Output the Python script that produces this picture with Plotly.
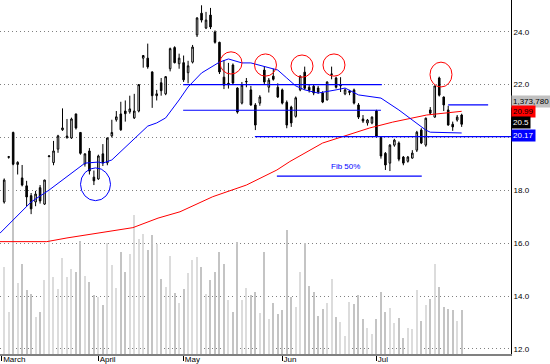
import plotly.graph_objects as go

# ---- data ----
opens = [17.56, 19.25, 20.19, 18.98, 18.47, 18.17, 17.80, 17.56, 18.10, 17.48,
         19.28, 19.05, 19.56, 20.29, 20.00, 19.98, 20.89, 20.19, 19.00, 19.49,
         18.50, 18.43, 19.38, 19.04, 20.06, 20.67, 20.89, 21.00, 20.97, 20.74,
         21.00, 23.00, 23.00, 22.48, 21.58, 22.07, 21.65, 22.60, 23.40, 22.79,
         22.83, 22.45, 22.85, 23.88, 24.70, 24.14, 24.63, 23.99, 23.60, 22.28,
         22.00, 22.74, 21.87, 21.30, 22.10, 21.80, 21.23, 21.30, 22.55, 21.90,
         22.32, 21.90, 21.80, 21.33, 21.15, 20.80, 21.80, 22.47, 21.90, 21.94,
         21.87, 21.68, 21.42, 22.38, 22.25, 21.95, 21.65, 21.70, 21.80, 21.23,
         20.70, 20.55, 20.55, 21.00, 20.00, 19.40, 19.03, 19.71, 19.79, 19.26,
         19.10, 19.22, 19.52, 20.28, 19.71, 21.04, 20.77, 22.25, 21.53, 21.04,
         20.50, 20.66, 20.85]
highs = [18.45, 19.30, 20.22, 19.10, 18.96, 18.36, 17.90, 17.98, 18.20, 18.40,
         19.32, 19.87, 20.10, 21.10, 20.70, 20.75, 20.90, 20.20, 19.40, 19.60,
         18.75, 19.35, 19.75, 20.00, 20.67, 21.00, 21.35, 21.40, 21.58, 21.65,
         22.02, 23.12, 23.55, 22.50, 21.80, 22.25, 22.32, 23.40, 23.45, 23.17,
         23.10, 22.90, 23.50, 24.55, 25.00, 24.75, 24.90, 24.05, 23.62, 22.93,
         22.82, 22.80, 21.90, 22.10, 22.25, 21.95, 21.30, 21.60, 22.70, 22.25,
         22.60, 22.05, 21.85, 21.40, 21.20, 21.55, 22.35, 22.68, 22.00, 22.00,
         21.95, 21.75, 22.12, 22.68, 22.30, 22.28, 21.85, 21.80, 21.85, 21.30,
         20.85, 20.70, 20.80, 21.05, 20.02, 19.45, 19.75, 19.95, 19.85, 19.30,
         19.30, 19.52, 20.25, 20.35, 20.75, 21.15, 21.95, 22.30, 21.55, 21.20,
         20.60, 20.85, 20.90]
lows = [17.50, 19.20, 18.95, 18.60, 18.15, 17.40, 17.10, 17.40, 17.50, 17.45,
        19.25, 18.95, 19.42, 20.25, 19.95, 19.95, 20.30, 19.35, 18.90, 18.60,
        18.20, 18.40, 18.92, 18.95, 20.00, 20.60, 20.25, 20.60, 20.90, 20.70,
        20.95, 22.64, 22.60, 21.12, 21.40, 21.58, 21.60, 22.50, 22.80, 22.60,
        22.10, 22.05, 22.80, 23.80, 24.35, 24.10, 24.10, 23.55, 22.40, 21.83,
        21.85, 22.00, 20.90, 21.25, 21.90, 21.20, 20.28, 21.20, 22.00, 21.70,
        22.15, 21.50, 21.25, 20.35, 20.40, 20.75, 21.75, 21.80, 21.70, 21.60,
        21.65, 21.30, 21.40, 22.20, 21.85, 21.72, 21.60, 21.60, 21.25, 20.70,
        20.55, 20.45, 20.50, 20.00, 19.20, 18.77, 18.73, 19.65, 19.10, 18.95,
        19.05, 19.20, 19.45, 19.75, 19.65, 20.85, 20.75, 21.55, 21.00, 20.45,
        20.25, 20.60, 20.40]
closes = [18.39, 19.27, 18.99, 19.06, 18.20, 17.75, 17.30, 17.86, 17.60, 18.39,
          19.30, 19.49, 20.06, 20.36, 20.05, 20.70, 20.36, 19.40, 19.38, 18.73,
          18.36, 19.30, 19.04, 19.98, 20.19, 20.78, 20.29, 20.90, 21.08, 21.00,
          22.00, 23.10, 22.67, 21.58, 21.65, 21.77, 22.30, 23.36, 22.83, 23.00,
          22.18, 22.71, 23.42, 24.52, 24.44, 24.44, 24.18, 23.60, 22.48, 21.98,
          22.05, 22.06, 20.96, 21.98, 22.12, 21.23, 20.47, 21.53, 22.10, 22.17,
          22.20, 21.53, 21.30, 20.47, 20.55, 21.50, 22.32, 21.86, 21.79, 21.68,
          21.72, 21.34, 22.10, 22.40, 21.90, 21.97, 21.80, 21.75, 21.30, 20.77,
          20.62, 20.66, 20.77, 20.05, 19.30, 18.96, 19.71, 19.90, 19.18, 19.03,
          19.26, 19.41, 20.20, 19.79, 20.73, 20.92, 21.95, 21.60, 21.23, 20.47,
          20.40, 20.77, 20.50]
volume_k = [2726, 1311, 5932, 2226, 2810, 1998, 1873, 1155, 1311, 2310,
            6151, 2413, 2029, 2997, 2413, 2654, 2560, 3528, 2435, 2257,
            1842, 1780, 1530, 3456, 2779, 2070, 3185, 2570, 3132, 4349,
            3590, 3747, 3247, 3725, 3425, 2342, 2101, 3069, 1895, 1592,
            2029, 2538, 2935, 3019, 2726, 1873, 2310, 2570, 3194, 2801,
            1686, 1321, 3487, 1686, 2070, 1842, 1945, 1271, 3175, 1083,
            1602, 1249, 1374, 3872, 1789, 1477, 2551, 3475, 2114, 1945,
            1186, 1414, 1602, 2332, 1146, 999, 562, 1633, 1561, 1842,
            1093, 802, 624, 1083, 1936, 1302, 1436, 977, 1133, 509,
            812, 781, 1998, 1030, 1530, 1717, 2801, 2082, 1477, 1414,
            1374, 1030, 1373.78]
days = list(range(len(closes)))

blue_ma_day = [-1, 2, 6, 10, 13, 16, 18, 21, 22, 24, 28, 32, 34, 36, 39, 41, 44, 48,
               50, 53, 55, 59, 61, 63, 65, 67, 70, 74, 76, 79, 84, 88, 91, 94, 95, 102]
blue_ma_val = [16.37, 16.88, 17.56, 18.01, 18.39, 18.77, 19.03, 19.07, 19.03, 19.15,
               19.79, 20.43, 20.55, 20.74, 21.42, 21.91, 22.44, 22.85, 22.97, 22.82,
               22.82, 22.63, 22.55, 22.25, 21.95, 21.80, 21.68, 21.80, 21.87, 21.61,
               21.49, 21.04, 20.66, 20.28, 20.20, 20.17]
red_ma_day = [-1, 9.5, 14, 21.3, 28.7, 34.3, 39.2, 46.5, 54, 60.8, 63.7, 71, 76.4,
              81.5, 86.6, 94.2, 102]
red_ma_val = [16.06, 16.06, 16.20, 16.39, 16.59, 16.95, 17.19, 17.76, 18.20, 18.77,
              19.09, 19.79, 20.09, 20.36, 20.58, 20.85, 20.99]

month_labels = ["March", "April", "May", "Jun", "Jul"]
month_pos = [-0.5, 21, 40, 62, 83]

price_ticks = [12, 14, 16, 18, 20, 22, 24]
price_tick_text = ["12.0", "14.0", "16.0", "18.0", "", "22.0", "24.0"]  # 20.0 hidden under the 20.17 box

# drawn trend lines: (start day, end day, price)
hlines = [(39.9, 84.2, 22.0), (39.9, 84.0, 21.03), (55.9, 113.0, 20.03),
          (60.8, 93.1, 18.54), (99.0, 107.9, 21.23)]
# circles: (centre day, centre price, half-width days, half-height price, colour)
circles = [(20.36, 18.23, 3.34, 0.62, "#0000ff"),
           (50.57, 22.82, 2.45, 0.42, "#ff0000"),
           (58.26, 22.74, 2.45, 0.42, "#ff0000"),
           (66.4, 22.70, 2.45, 0.42, "#ff0000"),
           (73.53, 22.74, 2.45, 0.42, "#ff0000"),
           (97.39, 22.38, 2.45, 0.47, "#ff0000")]
fib_text = ("Fib 50%", 76.2, 18.9)

value_labels = ["1,373,780", "20.99", "20.5", "20.17"]
value_label_pos = [21.36, 20.97, 20.55, 20.08]
value_label_bg = ["#c0c0c0", "#ff0000", "#000000", "#0000ff"]
value_label_fg = ["#000000", "#000000", "#ffffff", "#ffffff"]

FONT = "Liberation Sans, Arial, sans-serif"

vol_colors = ["#dcdcdc" if c >= o else "#c4c4c4" for o, c in zip(opens, closes)]

fig = go.Figure()
fig.add_trace(go.Bar(x=days, y=volume_k, width=0.26, marker=dict(color=vol_colors, line=dict(width=0)),
                     yaxis="y", showlegend=False, hoverinfo="skip"))
fig.add_trace(go.Scatter(x=red_ma_day, y=red_ma_val, mode="lines", yaxis="y2",
                         line=dict(color="#ff0000", width=1), showlegend=False))
fig.add_trace(go.Scatter(x=blue_ma_day, y=blue_ma_val, mode="lines", yaxis="y2",
                         line=dict(color="#0000ff", width=1), showlegend=False))
fig.add_trace(go.Candlestick(x=days, open=opens, high=highs, low=lows, close=closes, yaxis="y2",
                             increasing=dict(line=dict(color="#000000", width=1), fillcolor="#ffffff"),
                             decreasing=dict(line=dict(color="#000000", width=1), fillcolor="#000000"),
                             whiskerwidth=0, showlegend=False))

shapes = []
for x0, x1, p in hlines:
    shapes.append(dict(type="line", xref="x", yref="y2", x0=x0, x1=x1, y0=p, y1=p,
                       line=dict(color="#0000ff", width=1.2)))
for cx, cy, rx, ry, col in circles:
    shapes.append(dict(type="circle", xref="x", yref="y2", x0=cx - rx, x1=cx + rx,
                       y0=cy - ry, y1=cy + ry, line=dict(color=col, width=1)))

annotations = [dict(text=fib_text[0], x=fib_text[1], y=fib_text[2], xref="x", yref="y2",
                    showarrow=False, font=dict(family=FONT, size=8, color="#0000ff"))]
for t, p, bg, fg in zip(value_labels, value_label_pos, value_label_bg, value_label_fg):
    annotations.append(dict(text=t, x=1, y=p, xref="paper", yref="y2", xanchor="left",
                            yanchor="middle", showarrow=False, bgcolor=bg, borderpad=1,
                            font=dict(family=FONT, size=8, color=fg)))

fig.update_layout(
    width=550, height=364,
    margin=dict(l=0, r=39, t=0, b=10),
    paper_bgcolor="white", plot_bgcolor="white",
    font=dict(family=FONT, size=8, color="#000000"),
    boxgap=0.5,
    bargap=0,
    showlegend=False,
    xaxis=dict(range=[-0.936, 113.0], rangeslider=dict(visible=False),
               tickvals=month_pos, ticktext=month_labels,
               ticks="outside", ticklen=5, tickcolor="#000000", tickwidth=1,
               ticklabelposition="outside right", ticklabelstandoff=-3,
               showline=True, linecolor="#808080", linewidth=1.5,
               showgrid=False, zeroline=False, fixedrange=True),
    yaxis=dict(range=[0, 11052.6], visible=False, showgrid=False, fixedrange=True),
    yaxis2=dict(range=[11.81, 25.2], overlaying="y", side="right", anchor="x",
                tickvals=price_ticks, ticktext=price_tick_text, ticks="",
                showline=True, linecolor="#000000", linewidth=1,
                showgrid=True, gridcolor="#808080", griddash="1px,3px", gridwidth=1,
                zeroline=False, fixedrange=True),
    shapes=shapes,
    annotations=annotations,
)

fig.write_html("out.html")
